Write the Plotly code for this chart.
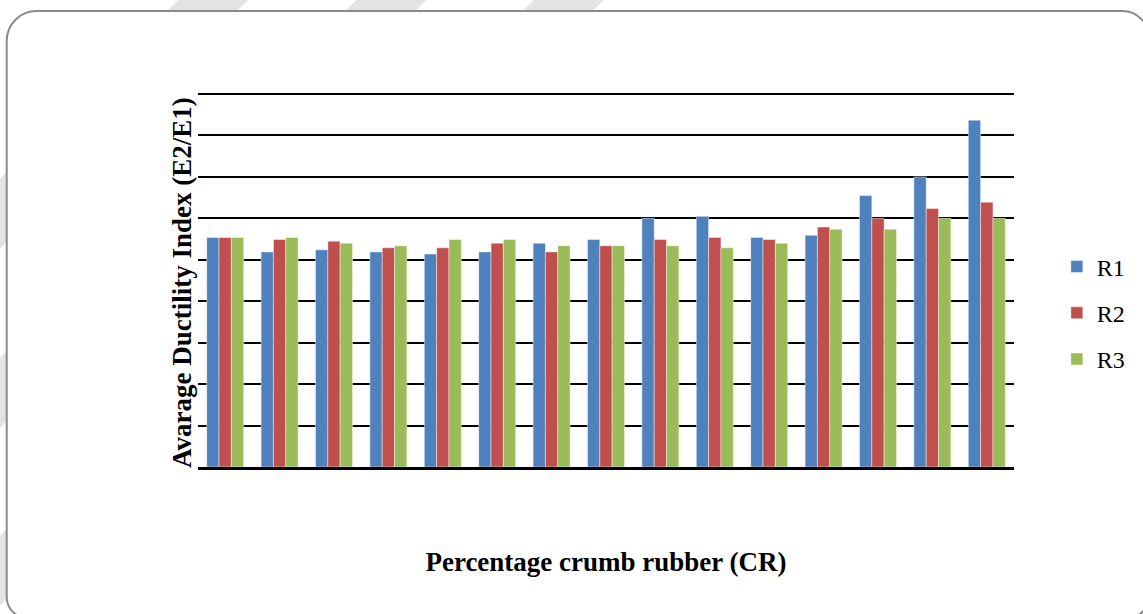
import plotly.graph_objects as go

# ---- data ----
groups = [str(i) for i in range(1, 16)]
r1 = [0.554, 0.519, 0.524, 0.519, 0.514, 0.519, 0.540, 0.549, 0.600, 0.605, 0.554, 0.559, 0.655, 0.700, 0.837]
r2 = [0.554, 0.549, 0.545, 0.529, 0.529, 0.540, 0.519, 0.534, 0.549, 0.554, 0.549, 0.579, 0.600, 0.624, 0.639]
r3 = [0.554, 0.554, 0.540, 0.534, 0.549, 0.549, 0.534, 0.534, 0.534, 0.529, 0.540, 0.574, 0.574, 0.600, 0.600]
series_names = ["R1", "R2", "R3"]
series_colors = ["#4F81BD", "#C0504D", "#9BBB59"]
y_top = 0.9025  # a hair above the last gridline so it stays visible

# ---- canvas geometry (px) ----
W, H = 1143, 614
PL, PR, PT, PB = 198, 1017, 93, 467
FONT = "Liberation Serif"


def to_paper(x, y):
    """Convert a pixel position on the page into paper coordinates."""
    return (x - PL) / (PR - PL), (PB - y) / (PB - PT)


def pt(x, y):
    px, py = to_paper(x, y)
    return f"{px:.5f},{py:.5f}"


def rounded_rect(x0, y0, x1, y1, r_tl, r_tr, r_br, r_bl):
    k = 0.5523
    p = f"M {pt(x0 + r_tl, y0)} L {pt(x1 - r_tr, y0)} "
    p += f"C {pt(x1 - r_tr + k * r_tr, y0)} {pt(x1, y0 + r_tr - k * r_tr)} {pt(x1, y0 + r_tr)} "
    p += f"L {pt(x1, y1 - r_br)} "
    p += f"C {pt(x1, y1 - r_br + k * r_br)} {pt(x1 - r_br + k * r_br, y1)} {pt(x1 - r_br, y1)} "
    p += f"L {pt(x0 + r_bl, y1)} "
    p += f"C {pt(x0 + r_bl - k * r_bl, y1)} {pt(x0, y1 - r_bl + k * r_bl)} {pt(x0, y1 - r_bl)} "
    p += f"L {pt(x0, y0 + r_tl)} "
    p += f"C {pt(x0, y0 + r_tl - k * r_tl)} {pt(x0 + r_tl - k * r_tl, y0)} {pt(x0 + r_tl, y0)} Z"
    return p


fig = go.Figure()
for name, vals, color in zip(series_names, [r1, r2, r3], series_colors):
    fig.add_trace(go.Bar(
        x=groups, y=vals, name=name, legendgroup=name,
        marker=dict(color=color, line=dict(width=1, color="rgba(255,255,255,0.45)")),
    ))

shapes = []
# light diagonal page stripes behind the frame
for a in [178, 357, 535]:
    d = 800
    path = f"M {pt(a, 0)} L {pt(a + 70, 0)} L {pt(a + 70 - d, d)} L {pt(a - d, d)} Z"
    shapes.append(dict(type="path", xref="paper", yref="paper", path=path,
                       fillcolor="#e3e3e3", line=dict(width=0), layer="below"))
# rounded frame
shapes.append(dict(type="path", xref="paper", yref="paper",
                   path=rounded_rect(6, 11, 1152, 618, 30, 26, 21, 21),
                   fillcolor="white", line=dict(color="#8a8a8a", width=2), layer="below"))

# vertical axis title, centred on the plot height
yt_x, _ = to_paper(182, 0)
_, yt_y = to_paper(0, 283)
annotations = [dict(
    text="<b>Avarage Ductility Index (E2/E1)</b>", textangle=-90,
    xref="paper", yref="paper", x=yt_x, y=yt_y, xanchor="center", yanchor="middle",
    showarrow=False, font=dict(family=FONT, size=27, color="black"),
)]

fig.update_layout(
    width=W, height=H, autosize=False,
    margin=dict(l=PL, r=W - PR, t=PT, b=H - PB, pad=0),
    paper_bgcolor="white", plot_bgcolor="rgba(0,0,0,0)",
    barmode="group", bargap=0.32, bargroupgap=0,
    font=dict(family=FONT, color="black"),
    shapes=shapes,
    annotations=annotations,
    xaxis=dict(
        type="category", showticklabels=False, ticks="", showgrid=False,
        showline=True, linecolor="black", linewidth=3,
        title=dict(text="<b>Percentage crumb rubber (CR)</b>",
                   font=dict(family=FONT, size=27, color="black"), standoff=84),
    ),
    yaxis=dict(
        range=[0, y_top], tick0=0, dtick=0.1,
        showgrid=True, gridcolor="black", gridwidth=2, zeroline=False,
        showticklabels=False, ticks="", showline=False,
    ),
    legend=dict(
        x=to_paper(1060, 0)[0], xanchor="left",
        y=to_paper(0, 313)[1], yanchor="middle",
        font=dict(family=FONT, size=24, color="black"),
        traceorder="grouped", tracegroupgap=12,
        bgcolor="rgba(0,0,0,0)",
    ),
)

fig.write_html("out.html")
